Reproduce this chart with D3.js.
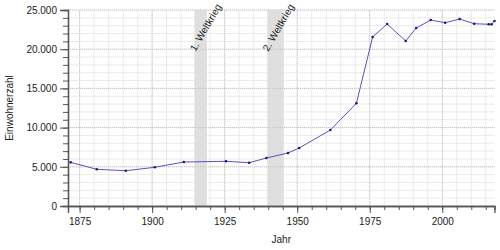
<!DOCTYPE html>
<html>
<head>
<meta charset="utf-8">
<script src="https://cdn.jsdelivr.net/npm/d3@7"></script>
<style>
  body { margin: 0; background: white; }
  text { font-family: "Liberation Sans", Arial, sans-serif; }
</style>
</head>
<body>
<script>
const width = 500;
const height = 250;
const x_range = [68, 494.5];
const y_range = [206, 10];

// population data (decimal year of census date, inhabitants)
const years = [1871.92, 1880.92, 1890.92, 1900.92, 1910.92, 1925.45, 1933.45, 1939.37,
    1946.82, 1950.7, 1961.43, 1970.4, 1976.0, 1981.0, 1987.4, 1991.0, 1996.0,
    2001.0, 2006.0, 2011.0, 2016.0, 2017.0, 2018.0];
const population = [5570, 4680, 4500, 4940, 5610, 5700, 5520, 6120,
    6760, 7400, 9690, 13100, 21560, 23210, 21050, 22700, 23720,
    23380, 23850, 23250, 23180, 23180, 23600];

// war periods
const war_labels = ["1. Weltkrieg", "2. Weltkrieg"];
const war_start = [1914.57, 1939.67];
const war_end = [1918.86, 1945.35];

const x_ticks = [1875, 1900, 1925, 1950, 1975, 2000];
const y_ticks = [0, 5000, 10000, 15000, 20000, 25000];

const data = years.map((y, i) => ({year: y, pop: population[i]}));
const wars = war_labels.map((l, i) => ({label: l, start: war_start[i], end: war_end[i]}));

const de = d3.formatLocale({decimal: ",", thousands: ".", grouping: [3], currency: ["", " €"]});
const fmt = de.format(",d");

let svg = d3.select("body").append("svg")
    .attr("width", width)
    .attr("height", height);

let xScale = d3.scaleLinear().domain([1871, 2018]).range(x_range);
let yScale = d3.scaleLinear().domain([0, 25000]).range(y_range);

// minor grid
let minor_x = d3.range(1875, 2018, 5);
let minor_y = d3.range(0, 25001, 1000);

svg.append("g").selectAll("line")
    .data(minor_x)
    .enter().append("line")
    .attr("x1", d => xScale(d)).attr("x2", d => xScale(d))
    .attr("y1", y_range[0]).attr("y2", y_range[1])
    .attr("stroke", "#ebebeb")
    .attr("stroke-width", 1);

svg.append("g").selectAll("line")
    .data(minor_y)
    .enter().append("line")
    .attr("x1", x_range[0]).attr("x2", x_range[1])
    .attr("y1", d => yScale(d)).attr("y2", d => yScale(d))
    .attr("stroke", "#ebebeb")
    .attr("stroke-width", 1);

// war bands
svg.append("g").selectAll("rect")
    .data(wars)
    .enter().append("rect")
    .attr("x", d => xScale(d.start))
    .attr("width", d => xScale(d.end) - xScale(d.start))
    .attr("y", y_range[1])
    .attr("height", y_range[0] - y_range[1])
    .attr("fill", "#dfdfdf");

// major grid (dotted)
svg.append("g").selectAll("line")
    .data(x_ticks)
    .enter().append("line")
    .attr("x1", d => xScale(d)).attr("x2", d => xScale(d))
    .attr("y1", y_range[0]).attr("y2", y_range[1])
    .attr("stroke", "#c4c4c4")
    .attr("stroke-dasharray", "1,1");

svg.append("g").selectAll("line")
    .data(y_ticks.slice(1))
    .enter().append("line")
    .attr("x1", x_range[0]).attr("x2", x_range[1])
    .attr("y1", d => yScale(d)).attr("y2", d => yScale(d))
    .attr("stroke", "#c4c4c4")
    .attr("stroke-dasharray", "1,1");

// war labels
svg.append("g").selectAll("text")
    .data(wars)
    .enter().append("text")
    .attr("transform", d => `translate(${xScale(d.start) + 1}, 52) rotate(-60)`)
    .attr("font-size", 10)
    .attr("fill", "#222")
    .text(d => d.label);

// axes
let x_minor = d3.axisBottom(xScale).tickValues(minor_x).tickSize(4).tickFormat("");
let x_major = d3.axisBottom(xScale).tickValues(x_ticks).tickSize(7).tickPadding(5).tickFormat(d3.format("d"));
let y_minor = d3.axisLeft(yScale).tickValues(minor_y).tickSize(5).tickFormat("");
let y_major = d3.axisLeft(yScale).tickValues(y_ticks).tickSize(8).tickPadding(3).tickFormat(fmt);

function style_axis(g) {
    g.select(".domain").attr("stroke", "#555").attr("stroke-width", 1.3);
    g.selectAll(".tick line").attr("stroke", "#555");
    g.selectAll(".tick text")
        .attr("font-family", "Liberation Sans, Arial, sans-serif")
        .attr("font-size", 10)
        .attr("fill", "#222");
}

svg.append("g").attr("transform", `translate(0, ${y_range[0]})`).call(x_minor).call(style_axis);
svg.append("g").attr("transform", `translate(0, ${y_range[0]})`).call(x_major).call(style_axis);
svg.append("g").attr("transform", `translate(${x_range[0]}, 0)`).call(y_minor).call(style_axis);
svg.append("g").attr("transform", `translate(${x_range[0]}, 0)`).call(y_major).call(style_axis);

// line
let line = d3.line()
    .x(d => xScale(d.year))
    .y(d => yScale(d.pop));

svg.append("path")
    .datum(data)
    .attr("d", line)
    .attr("fill", "none")
    .attr("stroke", "#5555bb")
    .attr("stroke-width", 1);

svg.selectAll(".pt")
    .data(data)
    .enter().append("circle")
    .attr("class", "pt")
    .attr("cx", d => xScale(d.year))
    .attr("cy", d => yScale(d.pop))
    .attr("r", 1.3)
    .attr("fill", "#1a1a80");

// labels
svg.append("text")
    .attr("text-anchor", "middle")
    .attr("x", (x_range[0] + x_range[1]) / 2)
    .attr("y", 243)
    .attr("font-size", 10)
    .attr("fill", "#222")
    .text("Jahr");

svg.append("text")
    .attr("text-anchor", "middle")
    .attr("transform", `translate(13, ${(y_range[0] + y_range[1]) / 2}) rotate(-90)`)
    .attr("font-size", 10)
    .attr("fill", "#222")
    .text("Einwohnerzahl");
</script>
</body>
</html>
